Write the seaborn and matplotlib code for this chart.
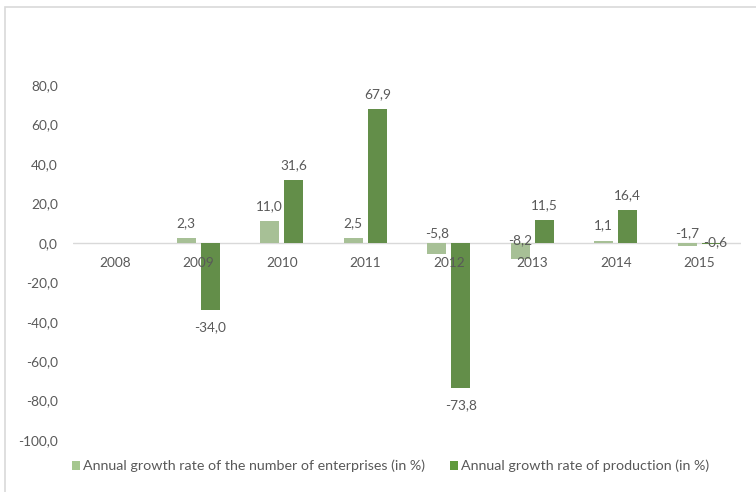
import matplotlib
matplotlib.use("Agg")
import matplotlib.pyplot as plt
from matplotlib.patches import Rectangle, Patch
import numpy as np
import pandas as pd
import seaborn as sns

# ---- data -------------------------------------------------------------
years = ["2008", "2009", "2010", "2011", "2012", "2013", "2014", "2015"]
enterprises = [np.nan, 2.3, 11.0, 2.5, -5.8, -8.2, 1.1, -1.7]
production = [np.nan, -34.0, 31.6, 67.9, -73.8, 11.5, 16.4, -0.6]
series_names = [
    "Annual growth rate of the number of enterprises (in %)",
    "Annual growth rate of production (in %)",
]
y_ticks = [-100, -80, -60, -40, -20, 0, 20, 40, 60, 80]

# ---- style ------------------------------------------------------------
sns.set_style("white")
plt.rcParams["font.family"] = ["Lato", "DejaVu Sans"]
TEXT = "#595959"
LIGHT = "#a5c78f"
DARK = "#609a3d"
GRID = "#d9d9d9"
FS = 9.8

df = pd.DataFrame({
    "year": years * 2,
    "value": enterprises + production,
    "series": [series_names[0]] * len(years) + [series_names[1]] * len(years),
})

W, H = 756, 492
fig = plt.figure(figsize=(W / 100, H / 100), dpi=100)
ax = fig.add_axes([73 / W, 1 - 440 / H, 668 / W, 355 / H])

ax.axhline(0, color=GRID, lw=1.0, zorder=0)
sns.barplot(
    data=df, x="year", y="value", hue="series", order=years,
    hue_order=series_names, palette=[LIGHT, DARK],
    width=0.575, gap=0.2, linewidth=0, ax=ax, legend=False, zorder=2,
)

ax.set_xlim(-0.5, len(years) - 0.5)
ax.set_ylim(-100, 80)
ax.set_yticks(y_ticks)
ax.set_yticklabels([f"{v:.1f}".replace(".", ",") for v in y_ticks])
ax.tick_params(axis="y", length=0, pad=11, labelsize=FS, labelcolor=TEXT)
ax.set_xticks([])
ax.set_xlabel("")
ax.set_ylabel("")
sns.despine(ax=ax, left=True, bottom=True)

# category labels sit just under the zero line
for i, yr in enumerate(years):
    ax.annotate(yr, (i, 0), xytext=(0, -20), textcoords="offset pixels",
                ha="center", va="center", fontsize=FS, color=TEXT)


def fmt(v):
    return f"{v:.1f}".replace(".", ",")


# value labels; small negative values get their label just above the axis
near_zero_offsets = {(0, 4): 10, (0, 5): 3, (0, 7): 10, (1, 7): 1}
bar_width = 0.575 / 2
for s, vals in enumerate([enterprises, production]):
    shift = (s - 0.5) * bar_width
    for i, v in enumerate(vals):
        if np.isnan(v):
            continue
        xc = i + shift
        if v >= 0:
            ax.annotate(fmt(v), (xc, v), xytext=(0, 15), textcoords="offset pixels",
                        ha="center", va="center", fontsize=FS, color=TEXT)
        elif v < -20:
            ax.annotate(fmt(v), (xc, v), xytext=(0, -17), textcoords="offset pixels",
                        ha="center", va="center", fontsize=FS, color=TEXT)
        else:
            dx = 4 if s == 1 else 0
            ax.annotate(fmt(v), (xc, 0), xytext=(dx, near_zero_offsets.get((s, i), 8)),
                        textcoords="offset pixels", ha="center", va="center",
                        fontsize=FS, color=TEXT, zorder=5)

# legend
handles = [Patch(facecolor=LIGHT, edgecolor="none"), Patch(facecolor=DARK, edgecolor="none")]
fig.legend(handles, series_names, loc="center left",
           bbox_to_anchor=(72 / W, 1 - 466 / H), ncol=2, frameon=False,
           fontsize=10.3, labelcolor=TEXT, handlelength=0.55, handleheight=0.55,
           handletextpad=0.2, columnspacing=1.8, borderpad=0, borderaxespad=0)

# chart-area border
fig.patches.append(Rectangle((5 / W, -0.1), 1.2, 1 - 7 / H + 0.1,
                             transform=fig.transFigure, fill=False,
                             edgecolor=GRID, lw=1.2))

fig.savefig("out.png", dpi=100)
